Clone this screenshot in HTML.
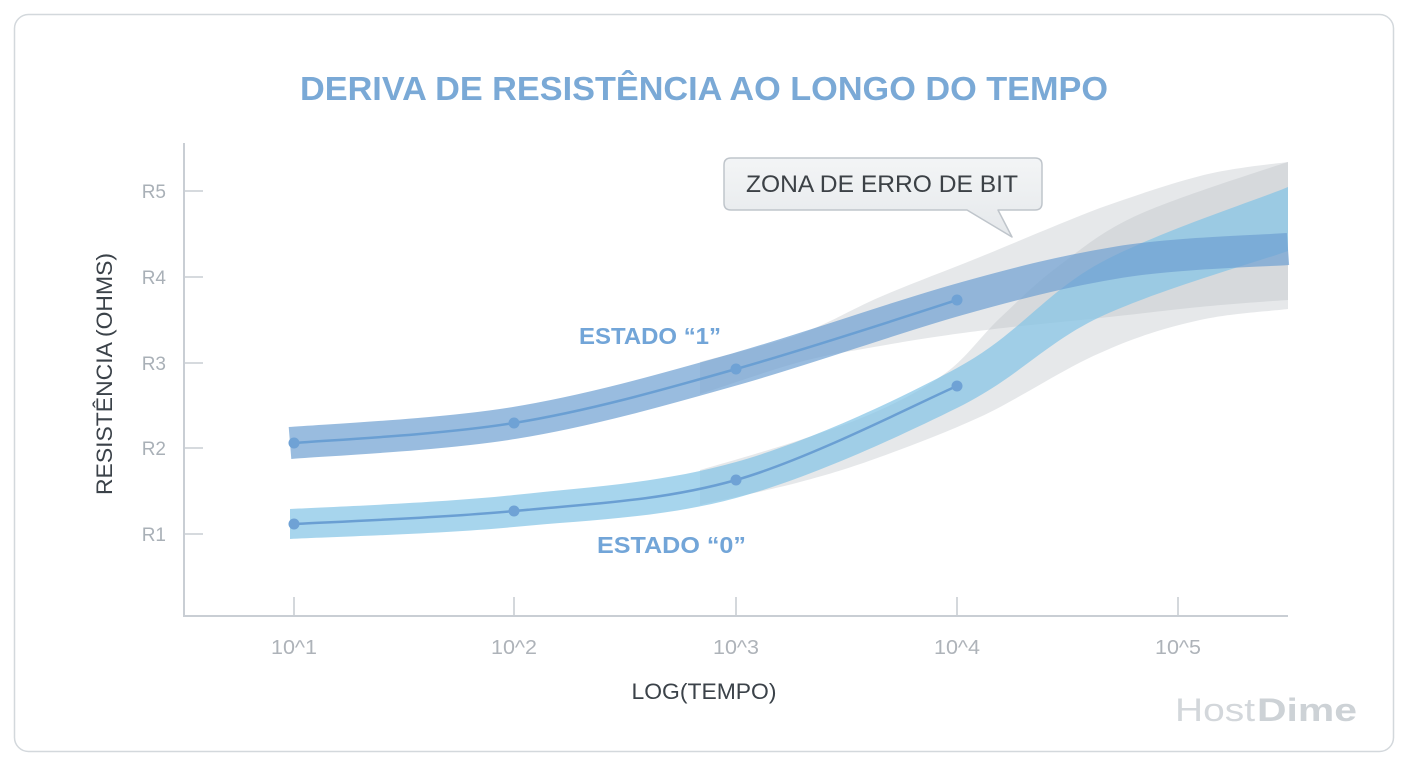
<!DOCTYPE html>
<html>
<head>
<meta charset="utf-8">
<style>
  html, body { margin: 0; padding: 0; background: #ffffff; }
  body { width: 1408px; height: 768px; overflow: hidden; }
  svg { display: block; font-family: "Liberation Sans", "DejaVu Sans", sans-serif; }
</style>
</head>
<body>
<svg width="1408" height="768" viewBox="0 0 1408 768" xmlns="http://www.w3.org/2000/svg">
  <defs>
    <linearGradient id="cg" x1="0" y1="0" x2="0" y2="1">
      <stop offset="0" stop-color="#f3f5f6"/>
      <stop offset="1" stop-color="#e5e8eb"/>
    </linearGradient>
  </defs>

  <!-- card -->
  <rect x="14.5" y="14.5" width="1379" height="737" rx="14" ry="14" fill="#ffffff" stroke="#d3d8dc" stroke-width="1.5"/>

  <!-- title -->
  <text x="704" y="100" text-anchor="middle" font-size="33" font-weight="bold" fill="#7aa9d6" textLength="808" lengthAdjust="spacingAndGlyphs">DERIVA DE RESISTÊNCIA AO LONGO DO TEMPO</text>

  <!-- axes -->
  <g stroke="#c9ced4" stroke-width="2" fill="none">
    <line x1="184" y1="143" x2="184" y2="617"/>
    <line x1="183" y1="616" x2="1288" y2="616"/>
  </g>
  <g stroke="#c9ced4" stroke-width="1.6">
    <line x1="184" y1="191" x2="203" y2="191"/>
    <line x1="184" y1="277" x2="203" y2="277"/>
    <line x1="184" y1="363" x2="203" y2="363"/>
    <line x1="184" y1="448" x2="203" y2="448"/>
    <line x1="184" y1="534" x2="203" y2="534"/>
    <line x1="294" y1="597" x2="294" y2="616"/>
    <line x1="514" y1="597" x2="514" y2="616"/>
    <line x1="736" y1="597" x2="736" y2="616"/>
    <line x1="957" y1="597" x2="957" y2="616"/>
    <line x1="1178" y1="597" x2="1178" y2="616"/>
  </g>

  <!-- y tick labels -->
  <g font-size="19" fill="#a9b0b7" text-anchor="end">
    <text x="166" y="198">R5</text>
    <text x="166" y="284">R4</text>
    <text x="166" y="370">R3</text>
    <text x="166" y="455">R2</text>
    <text x="166" y="541">R1</text>
  </g>

  <!-- x tick labels -->
  <g font-size="20" fill="#aeb3b9" text-anchor="middle">
    <text x="294" y="654" textLength="46" lengthAdjust="spacingAndGlyphs">10^1</text>
    <text x="514" y="654" textLength="46" lengthAdjust="spacingAndGlyphs">10^2</text>
    <text x="736" y="654" textLength="46" lengthAdjust="spacingAndGlyphs">10^3</text>
    <text x="957" y="654" textLength="46" lengthAdjust="spacingAndGlyphs">10^4</text>
    <text x="1178" y="654" textLength="46" lengthAdjust="spacingAndGlyphs">10^5</text>
  </g>

  <!-- axis titles -->
  <text x="704" y="699" text-anchor="middle" font-size="22" fill="#3b4249" textLength="145" lengthAdjust="spacingAndGlyphs">LOG(TEMPO)</text>
  <text transform="translate(112,374) rotate(-90)" x="0" y="0" text-anchor="middle" font-size="22" fill="#3b4249" textLength="242" lengthAdjust="spacingAndGlyphs">RESISTÊNCIA (OHMS)</text>

  <!-- gray envelopes -->
  <path fill="#b9c0c6" fill-opacity="0.36" d="M700,362 C717,357 770,345 800,334 C830,323 850,310 880,297 C910,284 943,272 980,257 C1017,242 1063,222 1100,208 C1137,195 1169,184 1200,176 C1231,168 1273,164 1288,162 L1288,300 C1273,301 1231,304 1200,307 C1169,310 1138,314 1100,318 C1062,322 1007,327 970,332 C933,337 908,341 880,346 C852,351 830,354 800,362 C770,370 717,389 700,394 Z"/>
  <path fill="#b9c0c6" fill-opacity="0.36" d="M700,470 C717,465 770,450 800,440 C830,430 856,421 880,410 C904,399 927,387 947,372 C967,357 981,336 1000,318 C1019,300 1037,282 1060,265 C1083,248 1102,231 1140,214 C1178,197 1263,170 1288,162 L1288,309 C1273,311 1231,313 1200,320 C1169,327 1137,336 1100,353 C1063,369 1017,400 980,417 C943,434 910,446 880,457 C850,468 830,474 800,482 C770,490 717,501 700,505 Z"/>

  <!-- band state 0 (light blue) -->
  <path fill="#82c3e6" fill-opacity="0.7" d="M290,509 C327,507 440,503 514,495 C588,487 662,483 736,462 C810,441 896,401 957,368 C1018,335 1045,293 1100,263 C1155,233 1257,200 1288,187 L1288,251 C1257,262 1155,291 1100,317 C1045,343 1018,378 957,408 C896,438 810,478 736,498 C662,518 588,520 514,527 C440,534 327,537 290,539 Z"/>

  <!-- band state 1 (darker blue) -->
  <path fill="none" stroke="#6ea0d2" stroke-opacity="0.7" stroke-width="32" stroke-linecap="butt" d="M290,443 C327,440 440,435 514,423 C588,411 662,390 736,369 C810,348 893,318 957,300 C1021,282 1065,271 1120,262 C1175,253 1260,251 1288,249"/>

  <!-- center lines -->
  <path fill="none" stroke="#6a9fd3" stroke-width="2.5" d="M294,443 C331,440 440,435 514,423 C588,411 662,390 736,369 C810,348 920,312 957,300"/>
  <path fill="none" stroke="#6a9fd3" stroke-width="2.5" d="M294,524 C331,522 440,518 514,511 C588,504 662,501 736,480 C810,459 920,402 957,386"/>

  <!-- dots -->
  <g fill="#6fa2d5">
    <circle cx="294" cy="443" r="5.5"/>
    <circle cx="514" cy="423" r="5.5"/>
    <circle cx="736" cy="369" r="5.5"/>
    <circle cx="957" cy="300" r="5.5"/>
    <circle cx="294" cy="524" r="5.5"/>
    <circle cx="514" cy="511" r="5.5"/>
    <circle cx="736" cy="480" r="5.5"/>
    <circle cx="957" cy="386" r="5.5"/>
  </g>

  <!-- state labels -->
  <text x="579" y="344" font-size="23" font-weight="bold" fill="#72a5d8" textLength="142" lengthAdjust="spacingAndGlyphs">ESTADO “1”</text>
  <text x="597" y="553" font-size="23" font-weight="bold" fill="#72a5d8" textLength="149" lengthAdjust="spacingAndGlyphs">ESTADO “0”</text>

  <!-- callout -->
  <path d="M731,158 L1035,158 Q1042,158 1042,165 L1042,203 Q1042,210 1035,210 L998,210 L1012,237 L967,210 L731,210 Q724,210 724,203 L724,165 Q724,158 731,158 Z" fill="url(#cg)" stroke="#bfc5cb" stroke-width="1.5" stroke-linejoin="round"/>
  <text x="882" y="192" text-anchor="middle" font-size="24" fill="#3c4146" textLength="272" lengthAdjust="spacingAndGlyphs">ZONA DE ERRO DE BIT</text>

  <!-- watermark -->
  <text x="1175" y="721" font-size="32" fill="#d3d7db" textLength="80" lengthAdjust="spacingAndGlyphs">Host</text>
  <text x="1257" y="721" font-size="32" font-weight="bold" fill="#cdd2d6" textLength="100" lengthAdjust="spacingAndGlyphs">Dime</text>
</svg>
</body>
</html>
